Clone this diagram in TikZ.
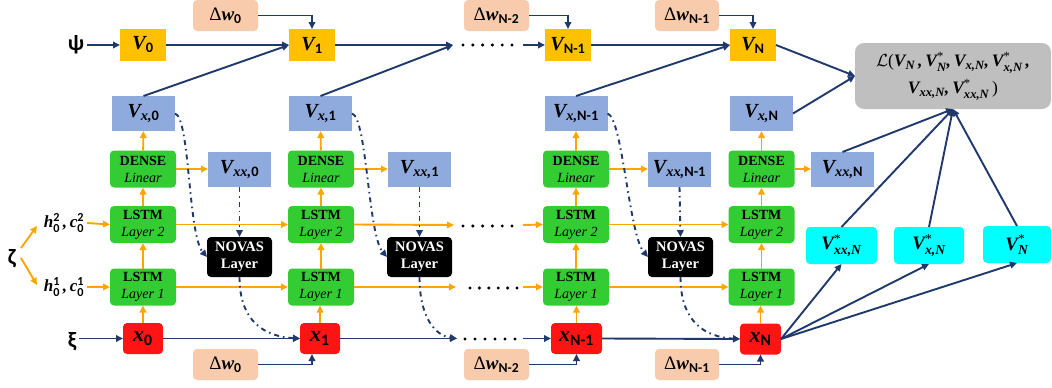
\documentclass[tikz,border=0pt]{standalone}
\usepackage{fix-cm}
\usepackage{amsmath}
\usepackage{fontspec}
\setmainfont{Liberation Serif}
\setsansfont{Carlito}
\usetikzlibrary{arrows.meta}
\definecolor{vorange}{RGB}{255,192,0}
\definecolor{peach}{RGB}{248,203,173}
\definecolor{vblue}{RGB}{143,170,220}
\definecolor{lgreen}{RGB}{51,204,51}
\definecolor{xred}{RGB}{255,20,20}
\definecolor{ccyan}{RGB}{0,255,255}
\definecolor{lgray}{RGB}{191,191,191}
\definecolor{navy}{RGB}{31,56,110}
\definecolor{aorange}{RGB}{255,165,0}
\newcommand\bi[1]{{\bfseries\itshape #1}}
\newcommand\sB[1]{{\sffamily\bfseries\upshape #1}}
\makeatletter
\newcommand\subfont{\fontsize{\fpeval{0.72*\f@size}}{0}\selectfont}
\newcommand\Sub[1]{\ensuremath{{}_{\mbox{\subfont #1}}}}
\newcommand\SubSup[2]{\ensuremath{{}^{\mbox{\subfont #2}}_{\mbox{\subfont #1}}}}
\makeatother
\begin{document}
\begin{tikzpicture}[x=1pt,y=-1pt,
  every node/.style={inner sep=0pt,outer sep=0pt},
  vbox/.style={fill=vorange,minimum width=46pt,minimum height=32pt,font=\fontsize{20}{22}\selectfont},
  dwbox/.style={fill=peach,rounded corners=4pt,minimum width=65pt,minimum height=31pt,font=\fontsize{19}{20}\selectfont},
  bluebox/.style={fill=vblue,minimum width=63pt,minimum height=35pt,font=\fontsize{20}{22}\selectfont},
  gbox/.style={fill=lgreen,rounded corners=4pt,minimum width=66pt,minimum height=37pt,align=center,font=\fontsize{14}{17}\selectfont},
  nbox/.style={fill=black,text=white,rounded corners=4pt,minimum width=65pt,minimum height=40pt,align=center,font=\bfseries\fontsize{14.5}{17}\selectfont},
  xbox/.style={fill=xred,rounded corners=4pt,minimum width=40pt,minimum height=31pt,font=\fontsize{22}{22}\selectfont},
  cbox/.style={fill=ccyan,rounded corners=4pt,minimum width=71pt,minimum height=37pt,font=\fontsize{19}{20}\selectfont},
  lossbox/.style={fill=lgray,rounded corners=9pt,minimum width=196pt,minimum height=66pt,align=center,font=\fontsize{17.5}{27}\selectfont},
  greek/.style={font=\sffamily\bfseries\fontsize{22}{22}\selectfont,inner sep=3pt},
  hc/.style={font=\fontsize{17}{18}\selectfont,inner sep=3pt},
  nav/.style={draw=navy,line width=1.9pt,-{Triangle[length=7pt,width=6.5pt]}},
  org/.style={draw=aorange,line width=1.9pt,-{Triangle[length=7pt,width=6.5pt]}},
  dd/.style={draw=navy,line width=1.9pt,dash pattern=on 5pt off 4pt on 1.5pt off 4pt,-{Triangle[length=7pt,width=6.5pt]}}
]
\useasboundingbox (0,0) rectangle (1052,388);

% ---- top row V
\node[vbox] (V0) at (143,45) {\bi{V}\Sub{\sB{0}}};
\node[vbox] (V1) at (312,45) {\bi{V}\Sub{\sB{1}}};
\node[vbox] (VN1) at (568,45) {\bi{V}\Sub{\sB{N-1}}};
\node[vbox] (VN) at (753,45) {\bi{V}\Sub{\sB{N}}};
\node[dwbox] (dwt0) at (225.5,15.5) {Δ\bi{w}\Sub{\sB{0}}};
\node[dwbox] (dwtN2) at (496.5,15.5) {Δ\bi{w}\Sub{\sB{N-2}}};
\node[dwbox,minimum width=64pt] (dwtN1) at (687,15.5) {Δ\bi{w}\Sub{\sB{N-1}}};
\node[greek] (psi) at (76,45) {ψ};

% ---- Vx
\node[bluebox] (Vx0) at (143.5,113.5) {\bi{V}\Sub{\bi{x,}\sB{0}}};
\node[bluebox] (Vx1) at (320.5,113.5) {\bi{V}\Sub{\bi{x,}\sB{1}}};
\node[bluebox] (VxN1) at (576,113.5) {\bi{V}\Sub{\bi{x,}\sB{N-1}}};
\node[bluebox] (VxN) at (761.5,113.5) {\bi{V}\Sub{\bi{x,}\sB{N}}};

% ---- Dense
\node[gbox] (D0) at (143,169) {\textbf{DENSE}\\\textit{Linear}};
\node[gbox] (D1) at (321,169) {\textbf{DENSE}\\\textit{Linear}};
\node[gbox] (DN1) at (576,169) {\textbf{DENSE}\\\textit{Linear}};
\node[gbox] (DN) at (761.5,169) {\textbf{DENSE}\\\textit{Linear}};

% ---- Vxx
\node[bluebox] (Vxx0) at (239.5,169.5) {\bi{V}\Sub{\bi{xx,}\sB{0}}};
\node[bluebox] (Vxx1) at (419.5,169.5) {\bi{V}\Sub{\bi{xx,}\sB{1}}};
\node[bluebox] (VxxN1) at (679.5,169.5) {\bi{V}\Sub{\bi{xx,}\sB{N-1}}};
\node[bluebox] (VxxN) at (842.5,169.5) {\bi{V}\Sub{\bi{xx,}\sB{N}}};

% ---- LSTM
\node[gbox] (La0) at (143,224.5) {\textbf{LSTM}\\\textit{Layer 2}};
\node[gbox] (La1) at (321,224.5) {\textbf{LSTM}\\\textit{Layer 2}};
\node[gbox] (LaN1) at (576,224.5) {\textbf{LSTM}\\\textit{Layer 2}};
\node[gbox] (LaN) at (761.5,224.5) {\textbf{LSTM}\\\textit{Layer 2}};
\node[gbox] (Lb0) at (143,287) {\textbf{LSTM}\\\textit{Layer 1}};
\node[gbox] (Lb1) at (321,287) {\textbf{LSTM}\\\textit{Layer 1}};
\node[gbox] (LbN1) at (576,287) {\textbf{LSTM}\\\textit{Layer 1}};
\node[gbox] (LbN) at (761.5,287) {\textbf{LSTM}\\\textit{Layer 1}};

% ---- NOVAS
\node[nbox] (N0) at (239.5,257) {NOVAS\\Layer};
\node[nbox] (N1) at (419.5,257) {NOVAS\\Layer};
\node[nbox] (NN1) at (680.5,257) {NOVAS\\Layer};

% ---- x row
\node[xbox] (x0) at (143,338.5) {\bi{x}\Sub{\sB{0}}};
\node[xbox] (x1) at (320,338.5) {\bi{x}\Sub{\sB{1}}};
\node[xbox,minimum width=51pt] (xN1) at (576.5,338.5) {\bi{x}\Sub{\sB{N-1}}};
\node[xbox,minimum width=41pt] (xN) at (760.5,339) {\bi{x}\Sub{\sB{N}}};
\node[dwbox] (dwb0) at (225.5,364.5) {Δ\bi{w}\Sub{\sB{0}}};
\node[dwbox] (dwbN2) at (496.5,364.5) {Δ\bi{w}\Sub{\sB{N-2}}};
\node[dwbox,minimum width=64pt] (dwbN1) at (687,364.5) {Δ\bi{w}\Sub{\sB{N-1}}};
\node[greek] (xi) at (72,342) {ξ};

% ---- left inputs
\node[greek] (zeta) at (12,259) {ζ};
\node[hc] (h2) at (64,223) {\bi{h}\SubSup{\sB{0}}{\sB{2}}\,\bi{,}\,\bi{c}\SubSup{\sB{0}}{\sB{2}}};
\node[hc] (h1) at (64,287) {\bi{h}\SubSup{\sB{0}}{\sB{1}}\,\bi{,}\,\bi{c}\SubSup{\sB{0}}{\sB{1}}};
\coordinate (za) at (21,248);
\coordinate (zb) at (21,258);
\coordinate (ha) at (37,226);
\coordinate (hb) at (37,285);

% ---- right
\node[cbox] (Cxx) at (841.5,245.5) {\bi{V}\SubSup{\bi{xx,N}}{*}};
\node[cbox,minimum width=70pt] (Cx) at (929,245.5) {\bi{V}\SubSup{\bi{x,N}}{*}};
\node[cbox,minimum width=68pt] (C0) at (1017,244.5) {\bi{V}\SubSup{\bi{N}}{*}};
\node[lossbox] (loss) at (953,76) {$\mathcal{L}$(\bi{V}\Sub{\bi{N}}\,\bi{,}\,\bi{V}\SubSup{\bi{N}}{*}\bi{,}\,\bi{V}\Sub{\bi{x,N}}\bi{,}\,\bi{V}\SubSup{\bi{x,N}}{*}\,\bi{,}\\\bi{V}\Sub{\bi{xx,N}}\bi{,}\,\bi{V}\SubSup{\bi{xx,N}}{*}\,)};

% ---- dots
\coordinate (t1) at (453,45);   \coordinate (t2) at (523,45);
\coordinate (a1) at (454,225);  \coordinate (a2) at (523,225);
\coordinate (b1) at (456,287);  \coordinate (b2) at (523,287);
\coordinate (c1) at (457,338.5);\coordinate (c2) at (523,338.5);
\foreach \i in {0,...,5} {
  \fill ({463+9.8*\i},45) circle (1.7pt);
  \fill ({463+9.8*\i},226) circle (1.7pt);
  \fill ({470+9.4*\i},288) circle (1.7pt);
  \fill ({465+10*\i},339) circle (1.7pt);
}

% ---- navy connectors top
\draw[nav] (psi.east |- V0.west) -- (V0.west);
\draw[nav] (V0) -- (V1);
\draw[nav] (Vx0.north) -- (V1.west);
\draw[nav] (dwt0.east) -| (V1.north);
\draw[nav] (V1.east) -- (t1);
\draw[nav] (Vx1.north) -- (t1);
\draw[nav] (t2) -- (VN1.west);
\draw[nav] (dwtN2.east) -| (VN1.north);
\draw[nav] (VN1) -- (VN);
\draw[nav] (VxN1.north) -- (VN.west);
\draw[nav] (dwtN1.east) -| (VN.north);
\draw[nav] (VN.east) -- (loss.west);
\draw[nav] (VxN.east) -- (loss.west);
\draw[nav] (VxxN.north) -- (loss.south);
\draw[nav] (Cxx.north) -- (loss.south);
\draw[nav] (Cx.north) -- (loss.south);
\draw[nav] (C0.north) -- (loss.south);

% ---- navy connectors bottom
\draw[nav] (xi.east |- x0.west) -- (x0.west);
\draw[nav] (x0) -- (x1);
\draw[nav] (dwb0.east) -| (V1 |- x1.south);
\draw[nav] (x1.east) -- (c1);
\draw[nav] (c2) -- (xN1.west);
\draw[nav] (dwbN2.east) -| (xN1.south);
\draw[nav] (xN1.east) -- (xN.west);
\draw[nav] (dwbN1.east) -| (xN.south);
\draw[nav] (xN.east) -- (Cxx.south);
\draw[nav] (xN.east) -- (Cx.south);
\draw[nav] (xN.east) -- (C0.south);

% ---- orange connectors
\draw[org] (za) -- (ha);
\draw[org] (zb) -- (hb);
\draw[org] (h2.east) -- (La0.west);
\draw[org] (h1.east) -- (Lb0.west);
\foreach \c in {0,1,N1,N} {
  \draw[org] (x\c.north) -- (x\c.north |- Lb\c.south);
  \draw[org] (Lb\c) -- (La\c);
  \draw[org] (La\c) -- (D\c);
  \draw[org] (D\c) -- (Vx\c);
  \draw[org] (D\c.east) -- (D\c.east -| Vxx\c.west);
}
\draw[org] (La0) -- (La1);
\draw[org] (Lb0) -- (Lb1);
\draw[org] (La1.east) -- (a1);
\draw[org] (Lb1.east) -- (b1);
\draw[org] (a2) -- (LaN1.west);
\draw[org] (b2) -- (LbN1.west);
\draw[org] (LaN1) -- (LaN);
\draw[org] (LbN1) -- (LbN);

% ---- dash-dot connectors
\draw[dd] (Vx0.east) .. controls +(15,4) and +(-19,-22) .. (N0.west);
\draw[dd] (Vx1.east) .. controls +(15,4) and +(-19,-22) .. (N1.west);
\draw[dd] (VxN1.east) .. controls +(15,4) and +(-19,-22) .. (NN1.west);
\draw[dd] (Vxx0.south) -- (N0.north);
\draw[dd] (Vxx1.south) -- (N1.north);
\draw[dd] (VxxN1.south) -- (NN1.north);
\draw[dd] (N0.south) .. controls +(0,45) and +(-35,-2) .. (x1.west);
\draw[dd] (N1.south) .. controls +(0,40) and +(-22,-3) .. (c1);
\draw[dd] (NN1.south) .. controls +(0,45) and +(-35,-2) .. (xN.west);
\end{tikzpicture}
\end{document}
